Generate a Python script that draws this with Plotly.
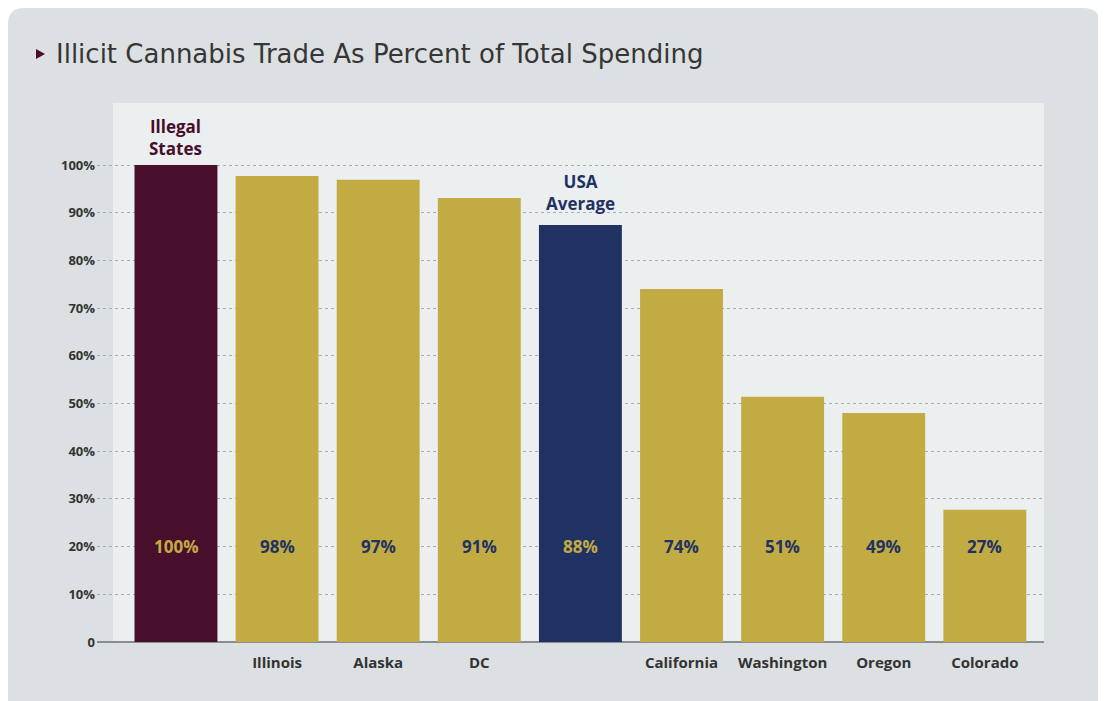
import plotly.graph_objects as go

# ---- data ----
categories = ["Illegal States", "Illinois", "Alaska", "DC", "USA Average",
              "California", "Washington", "Oregon", "Colorado"]
tick_labels = ["", "Illinois", "Alaska", "DC", "", "California", "Washington", "Oregon", "Colorado"]
bar_heights = [100, 97.7, 96.9, 93.1, 87.4, 74.0, 51.4, 48.0, 27.7]
value_labels = ["100%", "98%", "97%", "91%", "88%", "74%", "51%", "49%", "27%"]
y_tick_vals = [0, 10, 20, 30, 40, 50, 60, 70, 80, 90, 100]
y_tick_text = ["0", "10%", "20%", "30%", "40%", "50%", "60%", "70%", "80%", "90%", "100%"]
title_text = "Illicit Cannabis Trade As Percent of Total Spending"

MAROON = "#470f2c"
GOLD = "#c3ab44"
NAVY = "#1f3262"
PANEL = "#dce0e2"
PLOTBG = "#ebeff0"

bar_colors = [MAROON, GOLD, GOLD, GOLD, NAVY, GOLD, GOLD, GOLD, GOLD]
label_colors = [GOLD, NAVY, NAVY, NAVY, GOLD, NAVY, NAVY, NAVY, NAVY]
xs = list(range(len(categories)))

OFF = 8  # page body margin
W, H = 1098, 693
L, R, T, B = 89, 62, 95, 59
PW, PH = W - L - R, H - T - B


def px(x):  # screen x -> paper
    return (x - OFF - L) / PW


def py(y):  # screen y -> paper
    return (H - B - (y - OFF)) / PH


fig = go.Figure()
fig.add_trace(go.Bar(
    x=xs, y=bar_heights, width=0.82,
    marker=dict(color=bar_colors, line=dict(width=0)),
    hoverinfo="skip", showlegend=False,
))

annotations = []
for i, (lab, col) in enumerate(zip(value_labels, label_colors)):
    annotations.append(dict(x=xs[i], y=20, xref="x", yref="y", text=lab,
                            showarrow=False,
                            font=dict(family="Open Sans", size=17, color=col, weight="bold"),
                            yanchor="middle"))

# labels above special bars
annotations.append(dict(x=xs[0], y=bar_heights[0], xref="x", yref="y", yshift=28,
                        text="Illegal<br>States", showarrow=False, yanchor="middle",
                        font=dict(family="Open Sans", size=17, color=MAROON, weight="bold")))
annotations.append(dict(x=xs[4], y=bar_heights[4], xref="x", yref="y", yshift=33,
                        text="USA<br>Average", showarrow=False, yanchor="middle",
                        font=dict(family="Open Sans", size=17, color=NAVY, weight="bold")))
# title
annotations.append(dict(x=px(54), y=py(54), xref="paper", yref="paper", xanchor="left",
                        yanchor="middle", text=title_text, showarrow=False,
                        font=dict(family="DejaVu Sans", size=26, color="#363636")))

r = 16
x0, x1, y0, y1 = 8, 1100, 8, 720
panel_path = (
    f"M {px(x0)},{py(y0 + r)} Q {px(x0)},{py(y0)} {px(x0 + r)},{py(y0)} "
    f"L {px(x1 - r)},{py(y0)} Q {px(x1)},{py(y0)} {px(x1)},{py(y0 + r)} "
    f"L {px(x1)},{py(y1)} L {px(x0)},{py(y1)} Z"
)
shapes = [
    dict(type="path", path=panel_path, xref="paper", yref="paper", layer="below",
         fillcolor=PANEL, line=dict(width=0)),
    dict(type="rect", x0=px(113), x1=px(1044), y0=py(642), y1=py(103),
         xref="paper", yref="paper", layer="below", fillcolor=PLOTBG, line=dict(width=0)),
    dict(type="path", path=f"M {px(36)},{py(49)} L {px(36)},{py(59)} L {px(45)},{py(54)} Z",
         xref="paper", yref="paper", fillcolor=MAROON, line=dict(width=0)),
]

fig.update_layout(
    width=W, height=H,
    margin=dict(l=L, r=R, t=T, b=B),
    paper_bgcolor="white", plot_bgcolor="rgba(0,0,0,0)",
    annotations=annotations, shapes=shapes,
    xaxis=dict(range=[-0.781, 8.585], tickvals=xs, ticktext=tick_labels,
               showgrid=False, zeroline=False, showline=False, ticks="",
               ticklabelstandoff=10,
               tickfont=dict(family="Open Sans", size=15, color="#333333", weight="bold")),
    yaxis=dict(range=[0, 113], tickvals=y_tick_vals, ticktext=y_tick_text,
               showgrid=True, gridcolor="#a9adb0", griddash="dot", gridwidth=1,
               zeroline=True, zerolinecolor="#8a8d90", zerolinewidth=2,
               showline=False, ticks="", ticklabelstandoff=1,
               tickfont=dict(family="Open Sans", size=13, color="#333333", weight="bold")),
    font=dict(family="Open Sans"),
)

fig.write_html("out.html")
